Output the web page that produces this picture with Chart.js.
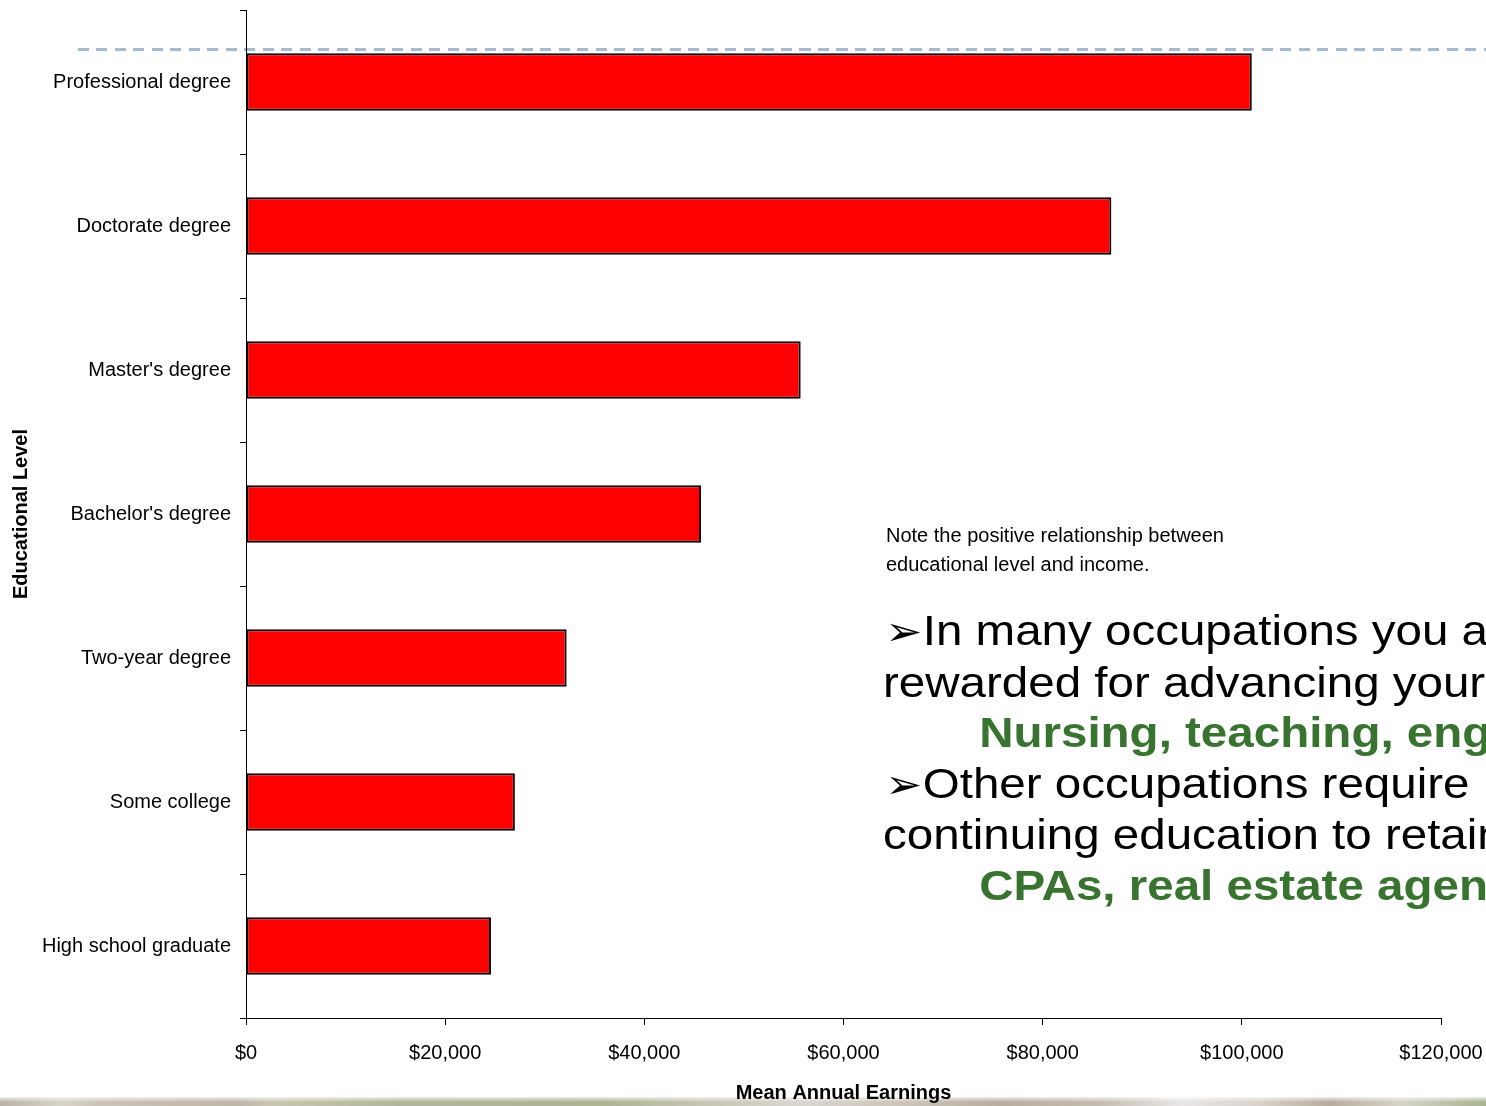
<!DOCTYPE html>
<html>
<head>
<meta charset="utf-8">
<script src="https://cdn.jsdelivr.net/npm/chart.js@4/dist/chart.umd.min.js"></script>
<style>
    html, body { margin: 0; padding: 0; background: #fff; overflow: hidden; }
    #wrap { position: relative; width: 1486px; height: 1106px; overflow: hidden; }
    #strip {
        position: absolute; left: 0; top: 1097px; width: 1486px; height: 9px;
        background:
            linear-gradient(to bottom, rgba(255,255,255,0.75) 0px, rgba(255,255,255,0) 5px),
            linear-gradient(to right, #b9b1a6 0px, #d8d4c8 60px, #cbc2b8 100px, #c2b8ac 200px, #bfb6aa 240px,
                #c9c6b0 270px, #b2b59c 400px, #aeb394 600px, #c6c4b2 700px, #d9d6d0 800px, #cdc5bb 900px,
                #b8ad9f 1000px, #c4bcb0 1100px, #e8e6e6 1180px, #d8d2ca 1260px, #b7ab9d 1330px, #d6d4c8 1400px, #a9b390 1486px);
    }
    #dash {
        position: absolute; left: 78px; top: 48px; width: 1408px; height: 3px;
        background: repeating-linear-gradient(to right, #a6bbd1 0px, #a6bbd1 11px, transparent 11px, transparent 18.5px);
    }
    #chart { position: absolute; left: 0; top: 0; }
    .note {
        position: absolute; left: 886px; top: 521px; font-family: "Liberation Sans", Arial, sans-serif;
        font-size: 20px; line-height: 29px; color: #000; white-space: nowrap;
    }
    .big {
        position: absolute; left: 883px; top: 605px; font-family: "Liberation Sans", Arial, sans-serif;
        font-size: 43px; line-height: 50.6px; color: #000; white-space: nowrap;
        transform: scaleX(1.105); transform-origin: 0 0;
    }
    .big .g { color: #38742f; font-weight: bold; padding-left: 87px; }
    .big .arr { display: inline-block; width: 36px; font-family: "DejaVu Sans", sans-serif; font-size: 40px; padding-left: 2px; box-sizing: border-box; }
</style>
</head>
<body>
<div id="wrap">
    <div id="strip"></div>
    <div id="dash"></div>
    <canvas id="chart" width="1486" height="1106"></canvas>
    <div class="note">Note the positive relationship between<br>educational level and income.</div>
    <div class="big">
        <div><span class="arr">➢</span>In many occupations you are</div>
        <div>rewarded for advancing your</div>
        <div class="g">Nursing, teaching, engineering</div>
        <div><span class="arr">➢</span>Other occupations require</div>
        <div>continuing education to retain</div>
        <div class="g">CPAs, real estate agents</div>
    </div>
</div>
<script>
// Veriler
const levels = ['Professional degree', 'Doctorate degree', "Master's degree", "Bachelor's degree",
    'Two-year degree', 'Some college', 'High school graduate'];
const earnings = [101000, 86900, 55700, 45700, 32200, 27000, 24600];
const xTicks = [0, 20000, 40000, 60000, 80000, 100000, 120000];

const fontFam = '"Liberation Sans", Arial, sans-serif';
const fmtUSD = (v) => '$' + Number(v).toLocaleString('en-US');

const ctx = document.getElementById('chart');
new Chart(ctx, {
    type: 'bar',
    data: {
        labels: levels,
        datasets: [{
            label: 'Mean Annual Earnings',
            data: earnings,
            backgroundColor: '#ff0000',
            borderColor: '#000000',
            borderWidth: 2,
            borderSkipped: false,
            barPercentage: 0.4,
            categoryPercentage: 1.0
        }]
    },
    options: {
        indexAxis: 'y',
        responsive: false,
        animation: false,
        layout: { padding: { top: 10, right: 45, bottom: 0, left: 0 } },
        plugins: { legend: { display: false }, tooltip: { enabled: false } },
        scales: {
            x: {
                min: 0,
                max: 120000,
                afterBuildTicks: (s) => { s.ticks = xTicks.map(v => ({ value: v })); },
                afterFit: (s) => { s.height = 88; s.paddingLeft = 0; s.paddingRight = 0; },
                border: { color: '#000', width: 1 },
                grid: { display: true, drawOnChartArea: false, drawTicks: true, tickLength: 7, color: '#000' },
                ticks: {
                    color: '#000', padding: 16, maxRotation: 0,
                    font: { family: fontFam, size: 20 },
                    callback: (v) => fmtUSD(v)
                },
                title: {
                    display: true, text: 'Mean Annual Earnings', color: '#000',
                    font: { family: fontFam, size: 20, weight: 'bold' },
                    padding: { top: 4, bottom: 1 }
                }
            },
            y: {
                afterFit: (s) => { s.width = 246; s.paddingTop = 0; s.paddingBottom = 0; },
                border: { color: '#000', width: 1 },
                grid: { display: true, drawOnChartArea: false, drawTicks: true, tickLength: 6, offset: true, color: '#000' },
                ticks: {
                    color: '#000', padding: 9,
                    font: { family: fontFam, size: 20 }
                },
                title: {
                    display: true, text: 'Educational Level', color: '#000',
                    font: { family: fontFam, size: 20, weight: 'bold' },
                    padding: { top: 9, bottom: 0 }
                }
            }
        }
    }
});
</script>
</body>
</html>
